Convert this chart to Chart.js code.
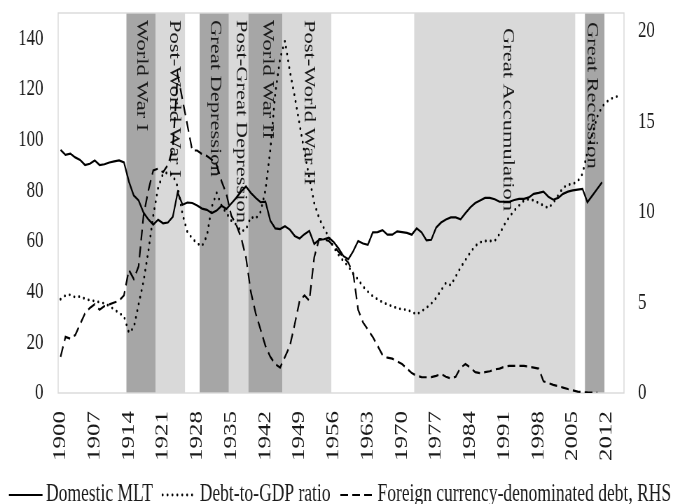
<!DOCTYPE html>
<html>
<head>
<meta charset="utf-8">
<script src="https://cdn.jsdelivr.net/npm/chart.js@4.4.1/dist/chart.umd.min.js"></script>
<style>
    html, body { margin: 0; padding: 0; background: #fff; overflow: hidden; }
    /* the source picture is horizontally condensed, so draw wide and squeeze */
    #wrap { width: 971px; height: 504px; transform: scaleX(0.70031); transform-origin: 0 0; }
</style>
</head>
<body>
<div id="wrap"><canvas id="debtChart" width="971" height="504"></canvas></div>
<script>
'use strict';

/** Domestic vs foreign-currency debt, 1900-2015 */

const years = Array.from({ length: 116 }, (_, i) => 1900 + i);
const tickEvery = 7;

// left axis, % of GDP
const domesticMLT = [
    96, 94, 94.5, 93, 92, 90, 90.5, 91.8, 90, 90.3,
    91, 91.4, 91.8, 91, 83.5, 78, 76, 71.2, 68.5, 66.5,
    68.4, 67, 67.3, 69.5, 79.2, 74.3, 75.2, 75, 74, 72.8,
    72.3, 71, 72, 73.9, 72.6, 74.8, 77, 79.5, 81.5, 79,
    77, 75.3, 75.5, 68, 65, 64.7, 65.8, 64.5, 62, 61,
    62.7, 64, 58.8, 60.5, 60.7, 61.3, 59.6, 57, 54, 52.8,
    56, 60, 59, 58.5, 63.4, 63.5, 64.3, 62.5, 62.5, 63.8,
    63.5, 63.2, 62.5, 65, 63.4, 60.3, 60.5, 65.3, 67.3, 68.5,
    69.3, 69.3, 68.6, 71, 73.3, 75, 76, 77, 77, 76.5,
    75.5, 75.5, 75.5, 76.2, 76.6, 76.6, 77.2, 78.6, 79, 79.5,
    77.5, 76.3, 77, 78.6, 79.5, 80, 80.3, 80.6, 75.3, 77.9,
    80.5, 83.2,
];

const debtToGDP = [
    37, 38.5, 38.8, 37.8, 38.1, 37.2, 36.6, 36.3, 35.8, 35.4,
    34.3, 33, 31.5, 30.3, 23.8, 25.7, 35, 44, 56, 70,
    81, 86.5, 87, 86, 81.5, 70.5, 63.5, 61, 59, 58,
    62, 73.5, 79, 73.9, 71, 68, 66.5, 63.8, 64.5, 69.5,
    68.8, 71.5, 80, 96, 118, 132, 139, 127, 117, 106,
    95, 85, 75, 69, 65, 61.5, 57.5, 54.5, 52, 50,
    47, 44.8, 42, 40, 38.2, 37, 35.8, 35, 34.2, 33.5,
    33, 32.9, 32, 31, 32.3, 33.6, 35.3, 37.5, 40.5, 43.5,
    42.5, 46, 49.5, 52.5, 55.5, 58, 59.5, 60, 60, 60,
    62.8, 66.5, 69.5, 72, 74, 76, 76.5, 76, 75, 74,
    73, 75, 78, 81, 82.2, 82.5, 83.5, 86.5, 95, 102,
    109, 113, 115, 116.3, 117, 117.3,
];

// right axis
const foreignDebtRHS = [
    2.0, 3.1, 3.0, 3.2, 3.8, 4.4, 4.7, 4.9, 4.6, 4.8,
    4.9, 5.0, 5.1, 5.4, 6.8, 6.3, 7.0, 9.8, 11.2, 12.3,
    12.4, 12.2, 12.6, 13.5, 17.6, 16.2, 14.8, 13.4, 13.4, 13.2,
    13.1, 12.9, 12.6, 11.7, 11.0, 9.8, 9.3, 8.6, 7.5, 5.6,
    4.4, 3.5, 2.6, 2.0, 1.6, 1.4, 2.0, 2.6, 3.8, 5.1,
    5.4, 5.1, 7.5, 8.5, 8.5, 8.4, 8.1, 7.8, 7.5, 7.2,
    6.6, 4.6, 3.9, 3.5, 3.1, 2.6, 2.1, 1.95, 1.9, 1.75,
    1.6, 1.35, 1.1, 0.95, 0.88, 0.87, 0.88, 0.95, 1.05, 0.9,
    0.8, 0.9, 1.4, 1.6, 1.4, 1.15, 1.1, 1.15, 1.2, 1.3,
    1.35, 1.45, 1.5, 1.5, 1.5, 1.5, 1.45, 1.4, 1.35, 0.65,
    0.55, 0.45, 0.38, 0.3, 0.22, 0.15, 0.08, 0.05, 0.03, 0.02,
    0.02,
];

const periodNames = [
    'World War I', 'Post-World War I', 'Great Depression', 'Post-Great Depression',
    'World War II', 'Post-World War II', 'Great Accumulation', 'Great Recession',
];
const periodStart = [1914, 1920, 1929, 1935, 1939, 1946, 1973, 2008];
const periodEnd = [1919, 1925, 1934, 1938, 1945, 1955, 2005, 2011];
const periodShade = ['dark', 'light', 'dark', 'light', 'dark', 'light', 'light', 'dark'];

const leftMax = 150;
const leftStep = 20;
const rightMax = 21;
const rightStep = 5;

const SERIF = "'Liberation Serif', 'Times New Roman', serif";
const INK = '#1a1a1a';

// shaded periods, their vertical captions and the plot frame
const periodBands = {
    id: 'periodBands',
    beforeDatasetsDraw(chart, args, opts) {
        const { ctx, chartArea: area, scales: { x } } = chart;
        const half = (x.getPixelForValue(1) - x.getPixelForValue(0)) / 2;
        const edges = periodNames.map((name, i) => [
            x.getPixelForValue(years.indexOf(periodStart[i])) - half,
            x.getPixelForValue(years.indexOf(periodEnd[i])) + half,
        ]);
        ctx.save();
        edges.forEach(([left, right], i) => {
            ctx.fillStyle = periodShade[i] === 'dark' ? opts.dark : opts.light;
            ctx.fillRect(left, area.top, right - left, area.bottom - area.top);
        });
        ctx.font = opts.font;
        ctx.fillStyle = INK;
        ctx.textAlign = 'left';
        ctx.textBaseline = 'middle';
        edges.forEach(([left, right], i) => {
            const [dx, dy] = opts.captionShift[i];
            ctx.save();
            ctx.translate((left + right) / 2 + dx, area.top + dy);
            ctx.rotate(Math.PI / 2);
            ctx.fillText(periodNames[i], 0, 0);
            ctx.restore();
        });
        ctx.strokeStyle = opts.frame;
        ctx.lineWidth = 1.4;
        ctx.strokeRect(area.left, area.top, area.right - area.left, area.bottom - area.top);
        ctx.restore();
    },
};

// legend drawn by hand: short line samples carrying each dataset's dash
const lineLegend = {
    id: 'lineLegend',
    afterDraw(chart, args, opts) {
        const { ctx } = chart;
        ctx.save();
        ctx.font = opts.font;
        const items = chart.data.datasets.map((ds) => ({ ds, w: ctx.measureText(ds.label).width }));
        const total = items.reduce((acc, it) => acc + opts.sample + opts.textGap + it.w, 0)
            + opts.itemGap * (items.length - 1);
        let x = (chart.width - total) / 2;
        items.forEach(({ ds, w }) => {
            ctx.strokeStyle = ds.borderColor;
            ctx.lineWidth = ds.borderWidth;
            ctx.lineCap = ds.borderCapStyle || 'butt';
            ctx.setLineDash(ds.borderDash || []);
            ctx.beginPath();
            ctx.moveTo(x, opts.lineY);
            ctx.lineTo(x + opts.sample, opts.lineY);
            ctx.stroke();
            x += opts.sample + opts.textGap;
            ctx.setLineDash([]);
            ctx.fillStyle = INK;
            ctx.textAlign = 'left';
            ctx.textBaseline = 'middle';
            ctx.fillText(ds.label, x, opts.textY);
            x += w + opts.itemGap;
        });
        ctx.restore();
    },
};

function keepMultiples(step) {
    return (scale) => {
        scale.ticks = scale.ticks.filter((t) => Math.abs(t.value / step - Math.round(t.value / step)) < 1e-6);
    };
}

const debtChart = new Chart(document.getElementById('debtChart'), {
    type: 'line',
    data: {
        labels: years.map(String),
        datasets: [
            {
                label: 'Domestic MLT',
                data: domesticMLT,
                yAxisID: 'y',
                borderColor: '#000',
                backgroundColor: '#000',
                borderWidth: 2.2,
            },
            {
                label: 'Debt-to-GDP ratio',
                data: debtToGDP,
                yAxisID: 'y',
                borderColor: '#000',
                backgroundColor: '#000',
                borderWidth: 2.8,
                borderDash: [0, 7],
                borderCapStyle: 'round',
            },
            {
                label: 'Foreign currency-denominated debt, RHS',
                data: foreignDebtRHS,
                yAxisID: 'y2',
                borderColor: '#000',
                backgroundColor: '#000',
                borderWidth: 2.2,
                borderDash: [11, 6],
            },
        ],
    },
    options: {
        responsive: false,
        animation: false,
        devicePixelRatio: 1,
        layout: { padding: { top: 13, bottom: 0, left: 0, right: 0 } },
        elements: {
            point: { radius: 0 },
            line: { tension: 0, fill: false },
        },
        scales: {
            x: {
                offset: true,
                grid: { display: false, drawTicks: false },
                border: { display: false },
                ticks: {
                    autoSkip: false,
                    minRotation: 90,
                    maxRotation: 90,
                    padding: 18,
                    color: INK,
                    font: { family: SERIF, size: 25 },
                    callback: (value, index) => ((years[index] - years[0]) % tickEvery === 0 ? String(years[index]) : null),
                },
                afterFit: (scale) => {
                    scale.height = 504 - 393;
                    scale.paddingLeft = 0;
                    scale.paddingRight = 0;
                },
            },
            y: {
                position: 'left',
                min: 0,
                max: leftMax,
                bounds: 'data',
                grid: { display: false, drawTicks: false },
                border: { display: false },
                ticks: {
                    stepSize: leftStep,
                    includeBounds: false,
                    padding: 21,
                    color: INK,
                    font: { family: SERIF, size: 24 },
                },
                afterBuildTicks: keepMultiples(leftStep),
                afterFit: (scale) => {
                    scale.width = 83;
                    scale.paddingTop = 0;
                    scale.paddingBottom = 0;
                },
            },
            y2: {
                position: 'right',
                min: 0,
                max: rightMax,
                bounds: 'data',
                grid: { display: false, drawTicks: false },
                border: { display: false },
                ticks: {
                    stepSize: rightStep,
                    includeBounds: false,
                    padding: 20,
                    color: INK,
                    font: { family: SERIF, size: 24 },
                },
                afterBuildTicks: keepMultiples(rightStep),
                afterFit: (scale) => {
                    scale.width = 80;
                    scale.paddingTop = 0;
                    scale.paddingBottom = 0;
                },
            },
        },
        plugins: {
            legend: { display: false },
            tooltip: { enabled: false },
            periodBands: {
                dark: '#a6a6a6',
                light: '#d9d9d9',
                frame: '#d9d9d9',
                font: `22.5px ${SERIF}`,
                captionShift: [[0, 7], [6, 7], [1, 7], [3, 7], [3, 7], [3, 7], [18, 15], [-4, 9]],
            },
            lineLegend: {
                font: `25px ${SERIF}`,
                sample: 48,
                textGap: 5,
                itemGap: 14,
                lineY: 495,
                textY: 494,
            },
        },
    },
    plugins: [periodBands, lineLegend],
});
</script>
</body>
</html>
